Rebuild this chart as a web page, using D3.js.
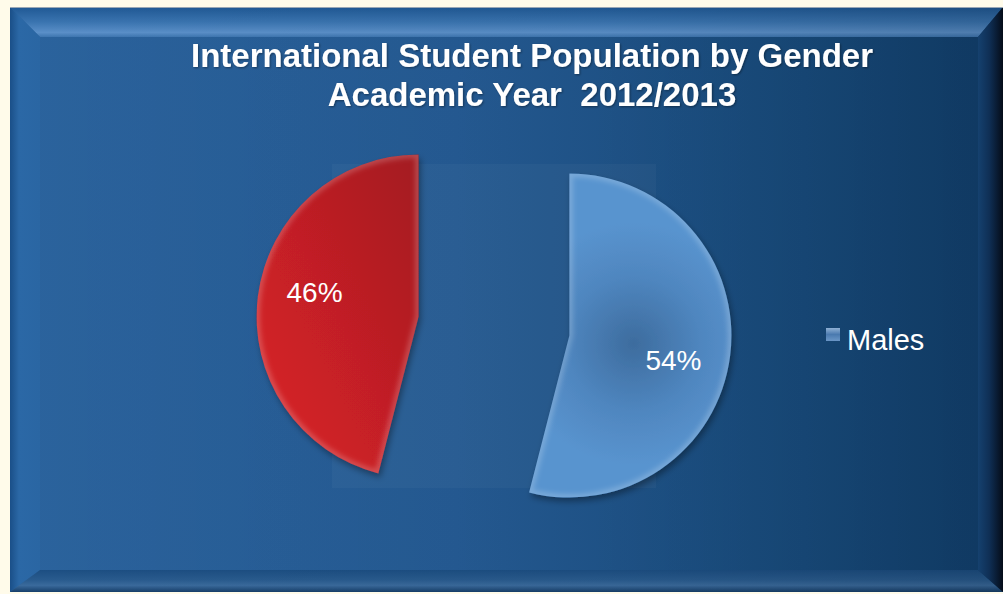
<!DOCTYPE html>
<html><head><meta charset="utf-8">
<script src="https://cdn.jsdelivr.net/npm/d3@7"></script>
<style>
html,body{margin:0;padding:0;background:#fffbea;}
svg{display:block;}
</style>
</head><body>
<script>
// ---- data ----
const titleLines = ["International Student Population by Gender", "Academic Year  2012/2013"];
const categories = ["Males", "Females"];
const values = [54, 46];
const legendItems = ["Males"];

// ---- layout ----
const W = 1003, H = 594;
const frame = {x0: 10, y0: 7, x1: 1003, y1: 592, bt: 30, bl: 30, bb: 22, br: 25};
const cx = 494, cy = 326, R = 162, explode = 76;

const svg = d3.select("body").append("svg").attr("width", W).attr("height", H);
const defs = svg.append("defs");

function lin(id, x1, y1, x2, y2, stops) {
  const g = defs.append("linearGradient").attr("id", id)
    .attr("x1", x1).attr("y1", y1).attr("x2", x2).attr("y2", y2);
  stops.forEach(s => g.append("stop").attr("offset", s[0]).attr("stop-color", s[1]).attr("stop-opacity", s[2] == null ? 1 : s[2]));
  return g;
}
lin("bgMain", 0, 0, 1, 0, [[0, "#2b639d"], [0.45, "#255b94"], [0.8, "#184c7e"], [1, "#114170"]]);
lin("bevTop", 0, 0, 0, 1, [[0, "#1f5894"], [0.5, "#3a74b0"], [0.85, "#5a8fc8"], [1, "#3e76b0"]]);
lin("bevLeft", 0, 0, 1, 0, [[0, "#1a4f88"], [0.3, "#2b68a6"], [1, "#2a66a3"]]);
lin("bevBot", 0, 0, 0, 1, [[0, "#1c4e82"], [0.45, "#295b8e"], [0.7, "#3a6a9c"], [1, "#163f6a"]]);
lin("bevRight", 0, 0, 1, 0, [[0, "#15416f"], [0.45, "#0f2f55"], [1, "#050c18"]]);
lin("shadeH", 0, 0, 1, 0, [[0, "#000", 0], [0.6, "#000", 0.04], [1, "#000", 0.14]]);
lin("redGrad", 1, 0, 0, 1, [[0, "#a31a21"], [0.5, "#c21f25"], [1, "#dc2329"]]);
lin("legGrad", 0, 0, 0, 1, [[0, "#8fb0d4"], [0.5, "#4a7aaf"], [1, "#6a96c6"]]);

const blur = defs.append("filter").attr("id", "blur").attr("x", "-20%").attr("y", "-20%").attr("width", "140%").attr("height", "140%");
blur.append("feGaussianBlur").attr("stdDeviation", 2.5);
const shadow = defs.append("filter").attr("id", "shadow").attr("x", "-20%").attr("y", "-20%").attr("width", "140%").attr("height", "140%");
shadow.append("feDropShadow").attr("dx", 2).attr("dy", 4).attr("stdDeviation", 3).attr("flood-color", "#000").attr("flood-opacity", 0.35);
const tshadow = defs.append("filter").attr("id", "tshadow");
tshadow.append("feDropShadow").attr("dx", 1).attr("dy", 1).attr("stdDeviation", 1).attr("flood-color", "#000").attr("flood-opacity", 0.4);

// ---- frame ----
const f = frame;
const ix0 = f.x0 + f.bl, iy0 = f.y0 + f.bt, ix1 = f.x1 - f.br, iy1 = f.y1 - f.bb;
svg.append("rect").attr("x", f.x0).attr("y", f.y0).attr("width", f.x1 - f.x0).attr("height", f.y1 - f.y0).attr("fill", "url(#bgMain)");
const poly = (pts, fill) => svg.append("polygon").attr("points", pts.map(p => p.join(",")).join(" ")).attr("fill", fill);
poly([[f.x0, f.y0], [f.x1, f.y0], [ix1, iy0], [ix0, iy0]], "url(#bevTop)");
poly([[f.x0, f.y0], [ix0, iy0], [ix0, iy1], [f.x0, f.y1]], "url(#bevLeft)");
poly([[f.x0, f.y1], [ix0, iy1], [ix1, iy1], [f.x1, f.y1]], "url(#bevBot)");
svg.append("rect").attr("x", f.x0).attr("y", f.y0).attr("width", f.x1 - f.x0).attr("height", f.y1 - f.y0).attr("fill", "url(#shadeH)");
poly([[f.x1, f.y0], [ix1, iy0], [ix1, iy1], [f.x1, f.y1]], "url(#bevRight)");
svg.append("line").attr("x1", f.x0).attr("y1", f.y0 + 0.5).attr("x2", f.x1).attr("y2", f.y0 + 0.5).attr("stroke", "#9aa7b5").attr("stroke-width", 1);

// ---- title ----
const title = svg.append("g").attr("fill", "#fff").attr("font-family", "'Liberation Sans', Arial, sans-serif")
  .attr("font-weight", "bold").attr("font-size", 33).attr("text-anchor", "middle").attr("filter", "url(#tshadow)");
titleLines.forEach((t, i) => {
  title.append("text").attr("x", 532).attr("y", 67 + i * 39).style("white-space", "pre").text(t);
});

// ---- plot area (pie bounding square) ----
svg.append("rect").attr("x", cx - R).attr("y", cy - R).attr("width", 2 * R).attr("height", 2 * R)
  .attr("fill", "#ffffff").attr("fill-opacity", 0.03);

// ---- pie ----
const data = categories.map((c, i) => ({cat: c, value: values[i]}));
const pie = d3.pie().sort(null).value(d => d.value);
const arc = d3.arc().innerRadius(0).outerRadius(R);
const labelR = R * 0.66, labelTurn = 6 * Math.PI / 180;
const arcs = pie(data);

arcs.forEach((a, i) => {
  const mid = (a.startAngle + a.endAngle) / 2;
  const ox = explode * Math.sin(mid), oy = -explode * Math.cos(mid);
  const g = svg.append("g").attr("transform", `translate(${cx + ox},${cy + oy})`);
  let fill;
  if (a.data.cat === "Males") {
    const rc = 0.4 * R;
    const rg = defs.append("radialGradient").attr("id", "blueGrad" + i).attr("gradientUnits", "userSpaceOnUse")
      .attr("cx", rc * Math.sin(mid)).attr("cy", -rc * Math.cos(mid)).attr("r", R * 0.75);
    rg.append("stop").attr("offset", 0).attr("stop-color", "#3d6c9e");
    rg.append("stop").attr("offset", 0.55).attr("stop-color", "#4f86bf");
    rg.append("stop").attr("offset", 1).attr("stop-color", "#5994cf");
    fill = `url(#blueGrad${i})`;
  } else {
    fill = "url(#redGrad)";
  }
  const d = arc(a);
  defs.append("clipPath").attr("id", "clip" + i).append("path").attr("d", d);
  g.append("path").attr("d", d).attr("fill", fill).attr("filter", "url(#shadow)");
  // bevel rim
  const rim = g.append("g").attr("clip-path", `url(#clip${i})`);
  rim.append("path").attr("d", d).attr("fill", "none").attr("stroke", "#ffffff").attr("stroke-opacity", 0.2)
    .attr("stroke-width", 7).attr("filter", "url(#blur)");
  // label
  const la = mid + labelTurn;
  g.append("text").attr("x", labelR * Math.sin(la)).attr("y", -labelR * Math.cos(la)).attr("dy", "0.35em").attr("text-anchor", "middle")
    .attr("fill", "#fff").attr("font-family", "'Liberation Sans', Arial, sans-serif").attr("font-size", 28)
    .text(Math.round(a.data.value) + "%");
});

// ---- legend ----
const leg = svg.append("g").attr("transform", "translate(826,328)");
legendItems.forEach((name, i) => {
  const row = leg.append("g").attr("transform", `translate(0,${i * 34})`);
  row.append("rect").attr("width", 14).attr("height", 13).attr("fill", "url(#legGrad)");
  row.append("text").attr("x", 21).attr("y", 22).attr("fill", "#fff")
    .attr("font-family", "'Liberation Sans', Arial, sans-serif").attr("font-size", 29).text(name);
});
</script>
</body></html>
